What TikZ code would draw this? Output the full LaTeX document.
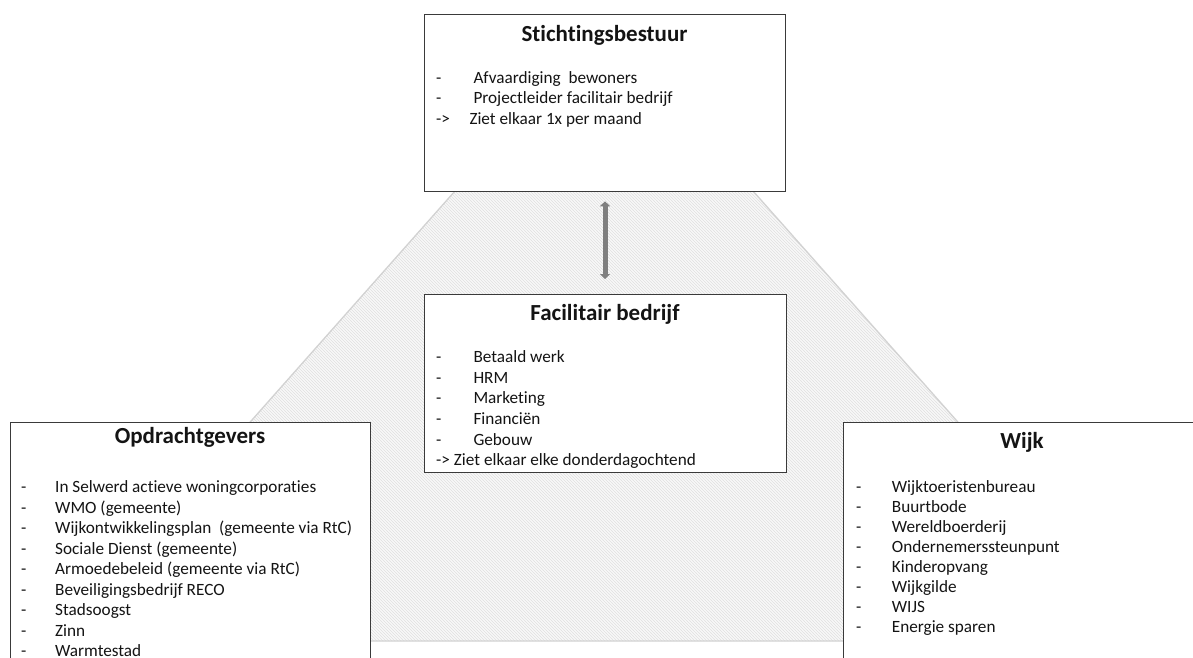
\documentclass[tikz,border=0pt]{standalone}
\usepackage{fontspec}
\setmainfont[Ligatures=NoCommon]{Carlito}
\usetikzlibrary{patterns,arrows.meta}
\definecolor{ink}{HTML}{141414}
\definecolor{frame}{HTML}{3A3A3A}
\definecolor{hatchline}{HTML}{E0E0E0}
\definecolor{hatchbg}{HTML}{F8F8F8}
\definecolor{edge}{HTML}{D2D2D2}
\definecolor{arrowgray}{HTML}{7F7F7F}
\begin{document}
\begin{tikzpicture}[x=1pt,y=-1pt,
  panel/.style={draw=frame, line width=1.3pt, fill=white, rectangle, inner sep=0pt, anchor=north west},
  head/.style={font=\fontsize{23}{27}\selectfont\bfseries, text=ink, inner sep=0pt, anchor=base},
  item/.style={font=\fontsize{17.2}{20}\selectfont, text=ink, inner sep=0pt, anchor=base west},
  link/.style={draw=arrowgray, line width=5pt, {Triangle[width=10pt,length=5pt]}-{Triangle[width=10pt,length=5pt]}}
]
\useasboundingbox (0,0) rectangle (1193,657);
\clip (0,0) rectangle (1193,657);

% hatched background shape joining the three corners
\path[fill=hatchbg] (455,191) -- (753,191) -- (1152,641) -- (56,641) -- cycle;
\path[pattern=north west lines, pattern color=hatchline] (455,191) -- (753,191) -- (1152,641) -- (56,641) -- cycle;
\draw[edge, line width=1.3pt, line join=round] (455,191) -- (753,191) -- (1152,641) -- (56,641) -- cycle;

% panels
\node[panel, minimum width=361pt, minimum height=177pt] (board) at (424,14) {};
\node[panel, minimum width=362pt, minimum height=178pt] (firm) at (424,294) {};
\node[panel, minimum width=360pt, minimum height=270pt] (clients) at (10,422) {};
\node[panel, minimum width=362pt, minimum height=270pt] (area) at (843,422) {};

% link between board and firm
\draw[link] ([yshift=-9pt]board.south -| 605,0) coordinate (la) -- ([yshift=15pt]firm.north -| 605,0) coordinate (lb);

% Stichtingsbestuur
\node[head] (boardtitle) at (604.5,41) {Stichtingsbestuur};
\foreach [count=\i] \t in {Afvaardiging\ \ bewoners, Projectleider facilitair bedrijf} {
  \node[item] (bd\i) at (436, {83.5+20.4*(\i-1)}) {-};
  \node[item] (bt\i) at (473.3, {83.5+20.4*(\i-1)}) {\t};
}
\node[item] (bd3) at (436, 124.3) {->};
\node[item] (bt3) at (469.3, 124.3) {Ziet elkaar 1x per maand};

% Facilitair bedrijf
\node[head] (firmtitle) at (605,320) {Facilitair bedrijf};
\foreach [count=\i] \t in {Betaald werk, HRM, Marketing, Financiën, Gebouw} {
  \node[item] (fd\i) at (436, {362.7+20.6*(\i-1)}) {-};
  \node[item] (ft\i) at (473.3, {362.7+20.6*(\i-1)}) {\t};
}
\node[item] (ft6) at (436, 465.7) {-> Ziet elkaar elke donderdagochtend};

% Opdrachtgevers
\node[head] (clientstitle) at (190,443.3) {Opdrachtgevers};
\foreach [count=\i] \t in {In Selwerd actieve woningcorporaties, WMO (gemeente), Wijkontwikkelingsplan\ \ (gemeente via RtC), Sociale Dienst (gemeente), Armoedebeleid\ (gemeente via RtC), Beveiligingsbedrijf\ RECO, Stadsoogst, Zinn, Warmtestad} {
  \node[item] (cd\i) at (21, {492.7+20.5*(\i-1)}) {-};
  \node[item] (ct\i) at (55, {492.7+20.5*(\i-1)}) {\t};
}

% Wijk
\node[head] (areatitle) at (1022,448.3) {Wijk};
\foreach [count=\i] \t in {Wijktoeristenbureau, Buurtbode, Wereldboerderij, Ondernemerssteunpunt, Kinderopvang, Wijkgilde, WIJS, Energie sparen} {
  \node[item] (ad\i) at (856, {492.5+20*(\i-1)}) {-};
  \node[item] (at\i) at (891.7, {492.5+20*(\i-1)}) {\t};
}
\end{tikzpicture}
\end{document}
